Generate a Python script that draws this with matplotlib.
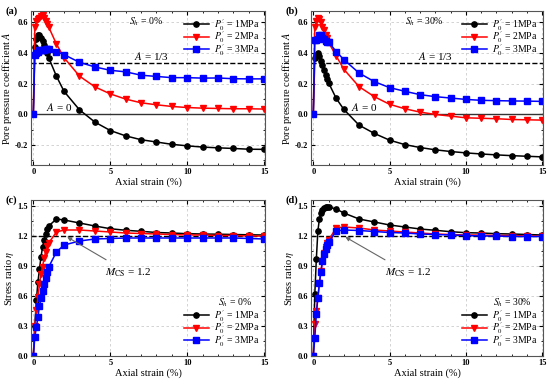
import numpy as np
import matplotlib
matplotlib.use("Agg")
import matplotlib.pyplot as plt
from matplotlib.ticker import MultipleLocator

plt.rcParams['font.family'] = ['Liberation Serif', 'DejaVu Serif']
plt.rcParams['mathtext.fontset'] = 'stix'
plt.rcParams['axes.unicode_minus'] = False

# axial strain (%) at which every series is sampled
strain = [0, 0.1, 0.2, 0.3, 0.4, 0.5, 0.6, 0.7, 0.8, 0.9, 1.0, 1.5, 2,
          3, 4, 5, 6, 7, 8, 9, 10, 11, 12, 13, 14, 15]

series_labels = ["$P_0'$ = 1MPa", "$P_0'$ = 2MPa", "$P_0'$ = 3MPa"]

# (a) pore pressure coefficient, Sh = 0%
a_1mpa = [0, 0.44, 0.49, 0.52, 0.52, 0.50, 0.48, 0.45, 0.42, 0.40, 0.37, 0.25, 0.15,
          0.03, -0.05, -0.105, -0.14, -0.165, -0.18, -0.195, -0.205, -0.213, -0.218,
          -0.222, -0.227, -0.228]
a_2mpa = [0, 0.57, 0.61, 0.62, 0.63, 0.64, 0.65, 0.63, 0.61, 0.59, 0.57, 0.46, 0.37,
          0.25, 0.18, 0.134, 0.10, 0.076, 0.063, 0.052, 0.045, 0.041, 0.039, 0.037,
          0.037, 0.035]
a_3mpa = [0, 0.39, 0.40, 0.41, 0.42, 0.42, 0.42, 0.42, 0.43, 0.43, 0.43, 0.41, 0.39,
          0.34, 0.31, 0.288, 0.278, 0.256, 0.248, 0.24, 0.24, 0.237, 0.238, 0.233,
          0.232, 0.232]

# (b) pore pressure coefficient, Sh = 30%
b_1mpa = [0, 0.37, 0.39, 0.40, 0.38, 0.35, 0.32, 0.29, 0.26, 0.23, 0.207, 0.105, 0.033,
          -0.07, -0.124, -0.168, -0.197, -0.216, -0.231, -0.242, -0.251, -0.258,
          -0.264, -0.269, -0.273, -0.277]
b_2mpa = [0, 0.57, 0.61, 0.63, 0.62, 0.60, 0.57, 0.55, 0.52, 0.50, 0.47, 0.382, 0.295,
          0.181, 0.116, 0.066, 0.037, 0.015, 0.0, -0.011, -0.022, -0.025, -0.028,
          -0.033, -0.035, -0.037]
b_3mpa = [0, 0.483, 0.485, 0.49, 0.52, 0.52, 0.50, 0.49, 0.48, 0.475, 0.474, 0.41, 0.358,
          0.27, 0.214, 0.175, 0.151, 0.129, 0.116, 0.107, 0.098, 0.092, 0.09, 0.088,
          0.087, 0.085]

# (c) stress ratio, Sh = 0%
c_1mpa = [0, 0.30, 0.56, 0.74, 0.87, 0.99, 1.09, 1.16, 1.22, 1.27, 1.30, 1.37, 1.36,
          1.33, 1.30, 1.273, 1.257, 1.247, 1.235, 1.23, 1.223, 1.22, 1.218, 1.215,
          1.212, 1.21]
c_2mpa = [0, 0.30, 0.46, 0.59, 0.72, 0.82, 0.89, 0.98, 1.04, 1.10, 1.13, 1.24, 1.26,
          1.26, 1.25, 1.24, 1.23, 1.225, 1.22, 1.215, 1.21, 1.21, 1.205, 1.205,
          1.2, 1.2]
c_3mpa = [0, 0.19, 0.29, 0.39, 0.50, 0.58, 0.65, 0.72, 0.78, 0.84, 0.89, 1.04, 1.11,
          1.15, 1.17, 1.175, 1.18, 1.18, 1.18, 1.18, 1.18, 1.18, 1.18, 1.18,
          1.175, 1.17]

# (d) stress ratio, Sh = 30%
d_1mpa = [0, 0.62, 0.97, 1.25, 1.37, 1.43, 1.46, 1.48, 1.49, 1.49, 1.49, 1.47, 1.43,
          1.37, 1.34, 1.31, 1.29, 1.27, 1.257, 1.243, 1.233, 1.23, 1.223, 1.22,
          1.215, 1.21]
d_2mpa = [0, 0.32, 0.45, 0.58, 0.73, 0.85, 0.95, 1.03, 1.09, 1.13, 1.16, 1.28, 1.29,
          1.28, 1.26, 1.25, 1.24, 1.23, 1.22, 1.215, 1.21, 1.21, 1.205, 1.205,
          1.2, 1.2]
d_3mpa = [0, 0.18, 0.42, 0.58, 0.73, 0.84, 0.95, 1.02, 1.07, 1.11, 1.14, 1.25, 1.26,
          1.255, 1.245, 1.235, 1.23, 1.22, 1.215, 1.21, 1.205, 1.2, 1.2, 1.195,
          1.195, 1.195]

styles = [dict(color='black', marker='o'),
          dict(color='red', marker='v'),
          dict(color='blue', marker='s')]

fig = plt.figure(figsize=(5.5, 3.8), dpi=100)
W, H = 550.0, 380.0


def make_ax(l, r, t, b):
    return fig.add_axes([l / W, 1 - b / H, (r - l) / W, (b - t) / H])


ax_a = make_ax(31, 265, 11, 165)
ax_b = make_ax(311, 543, 11, 165)
ax_c = make_ax(31, 265, 200, 356)
ax_d = make_ax(311, 543, 200, 356)


def style_axes(ax, ylim, ymajor, yminor, ylabel):
    ax.set_xlim(-0.15, 15.05)
    ax.set_ylim(*ylim)
    ax.xaxis.set_major_locator(MultipleLocator(5))
    ax.xaxis.set_minor_locator(MultipleLocator(1))
    ax.yaxis.set_major_locator(MultipleLocator(ymajor))
    ax.yaxis.set_minor_locator(MultipleLocator(yminor))
    ax.tick_params(which='both', direction='in', top=True, right=True, labelsize=6, pad=2)
    ax.tick_params(which='major', length=3)
    ax.tick_params(which='minor', length=1.5)
    for lab in ax.get_xticklabels() + ax.get_yticklabels():
        lab.set_fontweight('bold')
    ax.grid(True, which='major', ls=(0, (3, 3)), color='#cccccc', lw=0.6)
    ax.set_axisbelow(True)
    ax.set_xlabel('Axial strain (%)', fontsize=7.5, labelpad=1)
    ax.set_ylabel(ylabel, fontsize=7.5, labelpad=1)
    for s in ax.spines.values():
        s.set_color('#555555')
        s.set_linewidth(0.8)


def plot_series(ax, ys):
    for y, lab, st in zip(ys, series_labels, styles):
        ax.plot(strain, y, label=lab, lw=1.1, ms=3.8, **st)


def add_legend(ax, loc, anchor):
    ax.legend(loc=loc, frameon=False, fontsize=7, handlelength=2.6,
              borderaxespad=0.2, labelspacing=-0.35, handletextpad=0.5,
              bbox_to_anchor=anchor)


pore_label = 'Pore pressure coefficient $A$'
eta_label = 'Stress ratio $\\eta$'

for ax, ys, sh, name in [(ax_a, [a_1mpa, a_2mpa, a_3mpa], '$S_h$ = 0%', '(a)'),
                         (ax_b, [b_1mpa, b_2mpa, b_3mpa], '$S_h$ = 30%', '(b)')]:
    ax.axhline(1 / 3, color='black', ls='--', lw=1.0)
    ax.axhline(0, color='#333333', ls='-', lw=1.0)
    plot_series(ax, ys)
    style_axes(ax, (-0.33, 0.675), 0.2, 0.1, pore_label)
    add_legend(ax, 'upper right', (1.0, 1.0))
    ax.text(0.49, 0.93, sh, transform=ax.transAxes, fontsize=7, ha='center', va='center')
    ax.text(-0.11, 1.03, name, transform=ax.transAxes, fontsize=7.5, fontweight='bold',
            ha='left', va='top')

ax_a.text(7.7, 0.345, '$A$ = 1/3', fontsize=8, ha='center', va='bottom')
ax_a.text(1.7, 0.012, '$A$ = 0', fontsize=8, ha='center', va='bottom')
ax_b.text(8.0, 0.345, '$A$ = 1/3', fontsize=8, ha='center', va='bottom')
ax_b.text(3.3, 0.012, '$A$ = 0', fontsize=8, ha='center', va='bottom')

for ax, ys, sh, name, tip in [(ax_c, [c_1mpa, c_2mpa, c_3mpa], '$S_h$ = 0%', '(c)', (2.2, 1.19)),
                              (ax_d, [d_1mpa, d_2mpa, d_3mpa], '$S_h$ = 30%', '(d)', (2.1, 1.19))]:
    ax.axhline(1.2, color='black', ls='--', lw=1.0)
    plot_series(ax, ys)
    style_axes(ax, (0, 1.56), 0.3, 0.15, eta_label)
    add_legend(ax, 'lower right', (1.0, 0.01))
    ax.text(0.87, 0.34, sh, transform=ax.transAxes, fontsize=7, ha='center', va='center')
    ax.text(-0.11, 1.03, name, transform=ax.transAxes, fontsize=7.5, fontweight='bold',
            ha='left', va='top')
    ax.annotate('$M_{\\rm CS}$ = 1.2', xy=tip, xytext=(6.2, 0.83), fontsize=8,
                ha='center', va='center',
                arrowprops=dict(arrowstyle='-|>', color='#666666', lw=0.8,
                                shrinkA=6, shrinkB=0, mutation_scale=6))

fig.savefig('out.png', dpi=100)
